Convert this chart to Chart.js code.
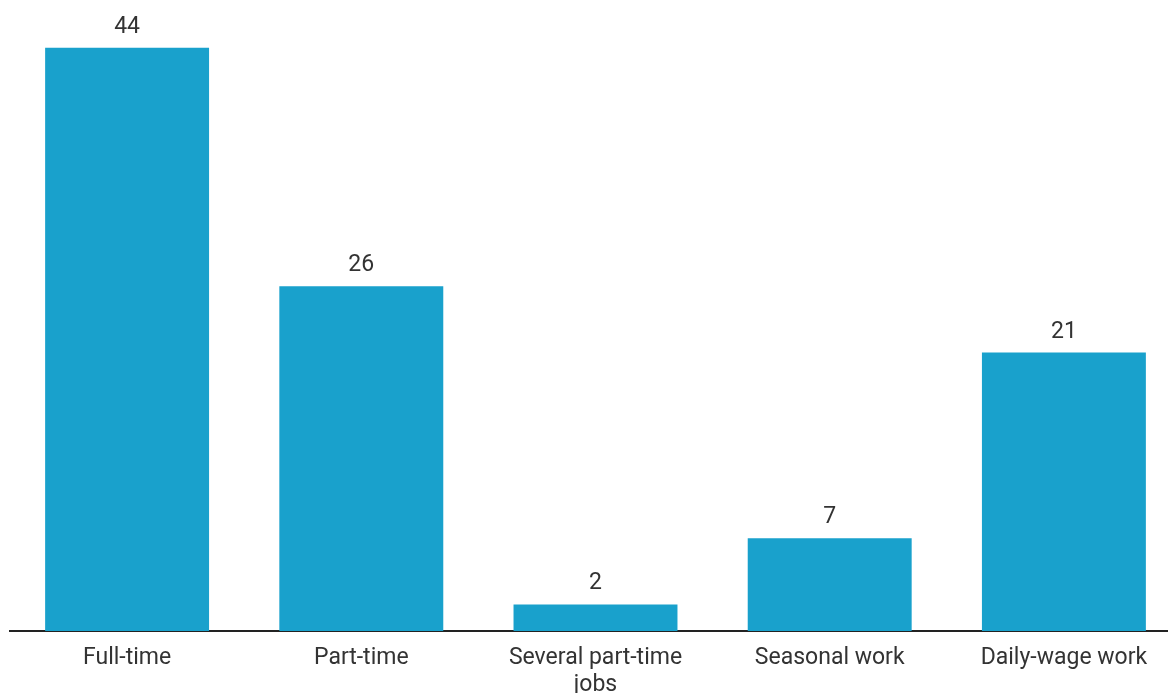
<!DOCTYPE html>
<html>
<head>
<meta charset="utf-8">
<script src="https://cdn.jsdelivr.net/npm/chart.js@4"></script>
<style>
  html, body { margin: 0; padding: 0; background: #fff; overflow: hidden; }
  #wrap { position: relative; width: 1181px; height: 693px; }
</style>
</head>
<body>
<div id="wrap"><canvas id="myChart"></canvas></div>
<script>
const categories = ['Full-time', 'Part-time', ['Several part-time', 'jobs'], 'Seasonal work', 'Daily-wage work'];
const values = [44, 26, 2, 7, 21];

// zahlen über den balken
const valueLabels = {
  id: 'valueLabels',
  afterDatasetsDraw(chart) {
    const ctx = chart.ctx;
    const meta = chart.getDatasetMeta(0);
    ctx.save();
    ctx.font = '23px Roboto';
    ctx.fillStyle = '#333333';
    ctx.textAlign = 'center';
    ctx.textBaseline = 'alphabetic';
    meta.data.forEach((bar, i) => {
      ctx.fillText(values[i], bar.x, bar.y - 15);
    });
    ctx.restore();
  }
};

new Chart(document.getElementById('myChart'), {
  type: 'bar',
  data: {
    labels: categories,
    datasets: [{
      data: values,
      backgroundColor: '#19a1cc',
      borderWidth: 0,
      barPercentage: 0.7,
      categoryPercentage: 1
    }]
  },
  options: {
    responsive: true,
    maintainAspectRatio: false,
    animation: false,
    layout: { padding: { left: 10, right: 0, top: 0, bottom: 0 } },
    plugins: { legend: { display: false }, tooltip: { enabled: false } },
    scales: {
      x: {
        grid: { display: false, drawTicks: false },
        border: { display: true, color: '#222222', width: 2 },
        afterFit(scale) { scale.height = 62; },
        ticks: {
          autoSkip: false,
          maxRotation: 0,
          minRotation: 0,
          padding: 14,
          color: '#333333',
          font: { family: 'Roboto', size: 23, lineHeight: 1.17 }
        }
      },
      y: {
        display: false,
        min: 0,
        max: 47.6
      }
    }
  },
  plugins: [valueLabels]
});
</script>
</body>
</html>
